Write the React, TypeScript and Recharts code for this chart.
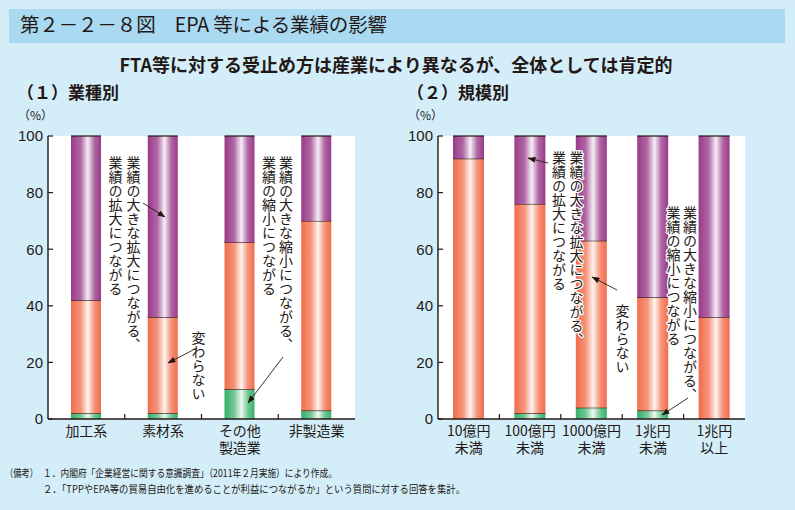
import React from 'react';
import { BarChart, Bar, XAxis, YAxis, CartesianGrid } from 'recharts';

// (1) 業種別
const industryCategories = ['加工系', '素材系', 'その他\n製造業', '非製造業'];
const industryShrink = [2, 2, 10.5, 3]; // 業績の(大きな)縮小につながる
const industrySame = [40, 34, 52, 67]; // 変わらない
const industryExpand = [58, 64, 37.5, 30]; // 業績の(大きな)拡大につながる

// (2) 規模別
const sizeCategories = ['10億円\n未満', '100億円\n未満', '1000億円\n未満', '1兆円\n未満', '1兆円\n以上'];
const sizeShrink = [0, 2, 4, 3, 0];
const sizeSame = [92, 74, 59, 40, 36];
const sizeExpand = [8, 24, 37, 57, 64];

const yTicks = [0, 20, 40, 60, 80, 100];

const industryRows = industryCategories.map((name, i) => ({
  name,
  shrink: industryShrink[i],
  same: industrySame[i],
  expand: industryExpand[i],
}));
const sizeRows = sizeCategories.map((name, i) => ({
  name,
  shrink: sizeShrink[i],
  same: sizeSame[i],
  expand: sizeExpand[i],
}));

const INK = '#231815';
const JP = '"Noto Sans CJK JP", "Noto Sans", sans-serif';
const NUM = '"Liberation Sans", "Noto Sans CJK JP", sans-serif';

const SegShape = (props: any) => {
  const { x, y, width, height, fill } = props;
  if (!height || height <= 0) return <g />;
  return (
    <g>
      <rect x={x} y={y} width={width} height={height} fill={fill} />
      <line x1={x} x2={x + width} y1={y} y2={y} stroke={INK} strokeWidth={1.2} />
    </g>
  );
};

const makeXTick = (n: number, halfBand: number) => (props: any) => {
  const { x, y, payload, index } = props;
  const lines = String(payload.value).split('\n');
  const half = payload && typeof payload.offset === 'number' && payload.offset > 0 ? payload.offset : halfBand;
  return (
    <g>
      {index < n - 1 && (
        <line x1={x + half} x2={x + half} y1={y - 5} y2={y} stroke={INK} strokeWidth={1.2} />
      )}
      {lines.map((ln, k) => (
        <text key={k} x={x} y={y + 17 + k * 17} textAnchor="middle" fontSize={14} fontFamily={JP} fill={INK}>
          {ln}
        </text>
      ))}
    </g>
  );
};

const YTick = (props: any) => {
  const { x, y, payload } = props;
  return (
    <g>
      <line x1={x} x2={x + 5} y1={y} y2={y} stroke={INK} strokeWidth={1.2} />
      <text x={x - 5} y={y} dy="0.36em" textAnchor="end" fontSize={15} fontFamily={NUM} fill={INK}>
        {payload.value}
      </text>
    </g>
  );
};

const axisLineStyle = { stroke: INK, strokeWidth: 1.4 };

function StackChart(p: { rows: any[]; n: number; left: number; width: number; marginRight: number; barSize: number; halfBand: number }) {
  return (
    <div style={{ position: 'absolute', left: p.left, top: 0 }}>
      <BarChart
        width={p.width}
        height={510}
        data={p.rows}
        margin={{ top: 136, right: p.marginRight, bottom: 51, left: 0 }}
        barCategoryGap={0}
      >
        <CartesianGrid fill="#ffffff" horizontal={false} vertical={false} />
        <Bar dataKey="shrink" stackId="a" fill="url(#gGreen)" barSize={p.barSize} shape={SegShape} isAnimationActive={false} />
        <Bar dataKey="same" stackId="a" fill="url(#gOrange)" barSize={p.barSize} shape={SegShape} isAnimationActive={false} />
        <Bar dataKey="expand" stackId="a" fill="url(#gPurple)" barSize={p.barSize} shape={SegShape} isAnimationActive={false} />
        <XAxis
          dataKey="name"
          height={40}
          interval={0}
          tickSize={0}
          tickMargin={0}
          tickLine={false}
          tick={makeXTick(p.n, p.halfBand)}
          axisLine={axisLineStyle}
        />
        <XAxis xAxisId="top" orientation="top" dataKey="name" height={0} tick={false} tickLine={false} axisLine={axisLineStyle} />
        <YAxis
          width={48}
          type="number"
          domain={[0, 100]}
          ticks={yTicks}
          interval={0}
          tickSize={0}
          tickMargin={0}
          tickLine={false}
          tick={YTick}
          axisLine={axisLineStyle}
        />
        <YAxis yAxisId="right" orientation="right" width={0} type="number" domain={[0, 100]} tick={false} tickLine={false} axisLine={axisLineStyle} />
      </BarChart>
    </div>
  );
}

const VText = (p: { x: number; y: number; text: string }) => (
  <text
    x={p.x}
    y={p.y}
    style={{ writingMode: 'vertical-rl' as any }}
    fontSize={14}
    fontFamily={JP}
    fill={INK}
    stroke="#ffffff"
    strokeWidth={2.5}
    strokeLinejoin="round"
    paintOrder="stroke"
  >
    {p.text}
  </text>
);

const Arrow = (p: { x1: number; y1: number; x2: number; y2: number }) => (
  <line x1={p.x1} y1={p.y1} x2={p.x2} y2={p.y2} stroke={INK} strokeWidth={0.9} markerEnd="url(#arrowHead)" />
);

const EXPAND_A = '業績の大きな拡大につながる、';
const EXPAND_B = '業績の拡大につながる';
const SHRINK_A = '業績の大きな縮小につながる、';
const SHRINK_B = '業績の縮小につながる';
const SAME = '変わらない';

function Overlay() {
  return (
    <svg width={795} height={510} style={{ position: 'absolute', left: 0, top: 0, pointerEvents: 'none' }}>
      <defs>
        <linearGradient id="gPurple" x1="0" y1="0" x2="1" y2="0">
          <stop offset="0" stopColor="#9A3A8A" />
          <stop offset="0.32" stopColor="#B067A4" />
          <stop offset="0.56" stopColor="#F6EEF5" />
          <stop offset="0.78" stopColor="#B067A4" />
          <stop offset="1" stopColor="#9A3A8A" />
        </linearGradient>
        <linearGradient id="gOrange" x1="0" y1="0" x2="1" y2="0">
          <stop offset="0" stopColor="#F16D4B" />
          <stop offset="0.32" stopColor="#F5937A" />
          <stop offset="0.56" stopColor="#FFF3EE" />
          <stop offset="0.78" stopColor="#F5937A" />
          <stop offset="1" stopColor="#F16D4B" />
        </linearGradient>
        <linearGradient id="gGreen" x1="0" y1="0" x2="1" y2="0">
          <stop offset="0" stopColor="#34B16A" />
          <stop offset="0.32" stopColor="#72C894" />
          <stop offset="0.56" stopColor="#ECF8F0" />
          <stop offset="0.78" stopColor="#72C894" />
          <stop offset="1" stopColor="#34B16A" />
        </linearGradient>
        <marker id="arrowHead" markerWidth="8" markerHeight="6" refX="7.5" refY="3" orient="auto" markerUnits="userSpaceOnUse">
          <path d="M0,0 L8,3 L0,6 z" fill={INK} />
        </marker>
      </defs>
    </svg>
  );
}

function TextLayer() {
  return (
    <svg width={795} height={510} style={{ position: 'absolute', left: 0, top: 0, pointerEvents: 'none' }}>
      <rect x={9} y={9} width={776} height={34} fill="#A9DAF2" />
      <text x={20} y={32} fontSize={19.5} fontFamily={JP} fill={INK} textLength={367} lengthAdjust="spacing">
        第２－２－８図　EPA 等による業績の影響
      </text>
      <text x={396} y={72} textAnchor="middle" fontSize={18} fontWeight="bold" fontFamily={JP} fill={INK}>
        FTA等に対する受止め方は産業により異なるが、全体としては肯定的
      </text>
      <text x={17} y={99} fontSize={17} fontWeight="bold" fontFamily={JP} fill={INK}>
        （１）業種別
      </text>
      <text x={407} y={99} fontSize={17} fontWeight="bold" fontFamily={JP} fill={INK}>
        （２）規模別
      </text>
      <text x={18} y={120} fontSize={12} fontFamily={JP} fill={INK}>（%）</text>
      <text x={408} y={120} fontSize={12} fontFamily={JP} fill={INK}>（%）</text>

      {/* annotations: 業種別 */}
      <VText x={133.5} y={156} text={EXPAND_A} />
      <VText x={115.5} y={156} text={EXPAND_B} />
      <Arrow x1={143} y1={203} x2={165} y2={217} />
      <VText x={198.5} y={331} text={SAME} />
      <Arrow x1={193} y1={350} x2={168} y2={363} />
      <VText x={286} y={156} text={SHRINK_A} />
      <VText x={269} y={156} text={SHRINK_B} />
      <Arrow x1={283} y1={357} x2={248} y2={403} />

      {/* annotations: 規模別 */}
      <VText x={576.5} y={151} text={EXPAND_A} />
      <VText x={559} y={151} text={EXPAND_B} />
      <Arrow x1={548} y1={163} x2={528} y2={158} />
      <VText x={622.5} y={304} text={SAME} />
      <Arrow x1={617} y1={290} x2={592} y2={277} />
      <VText x={690} y={206} text={SHRINK_A} />
      <VText x={673.5} y={206} text={SHRINK_B} />
      <Arrow x1={688} y1={398} x2={662} y2={415} />

      {/* notes */}
      <text x={5} y={477} fontSize={10.5} fontFamily={JP} fill={INK} textLength={33} lengthAdjust="spacingAndGlyphs">
        （備考）
      </text>
      <text x={43} y={477} fontSize={10.5} fontFamily={JP} fill={INK} textLength={294} lengthAdjust="spacingAndGlyphs">
        １．内閣府「企業経営に関する意識調査」（2011年２月実施）により作成。
      </text>
      <text x={43} y={493} fontSize={10.5} fontFamily={JP} fill={INK} textLength={422} lengthAdjust="spacingAndGlyphs">
        ２．「TPPやEPA等の貿易自由化を進めることが利益につながるか」という質問に対する回答を集計。
      </text>
    </svg>
  );
}

export default function App() {
  return (
    <div style={{ position: 'absolute', left: 0, top: 0, width: 795, height: 510, background: '#D4EEF9', overflow: 'hidden' }}>
      <Overlay />
      <StackChart rows={industryRows} n={industryCategories.length} left={0} width={400} marginRight={45} barSize={30} halfBand={38.4} />
      <StackChart rows={sizeRows} n={sizeCategories.length} left={390} width={405} marginRight={50} barSize={31} halfBand={30.7} />
      <TextLayer />
    </div>
  );
}
